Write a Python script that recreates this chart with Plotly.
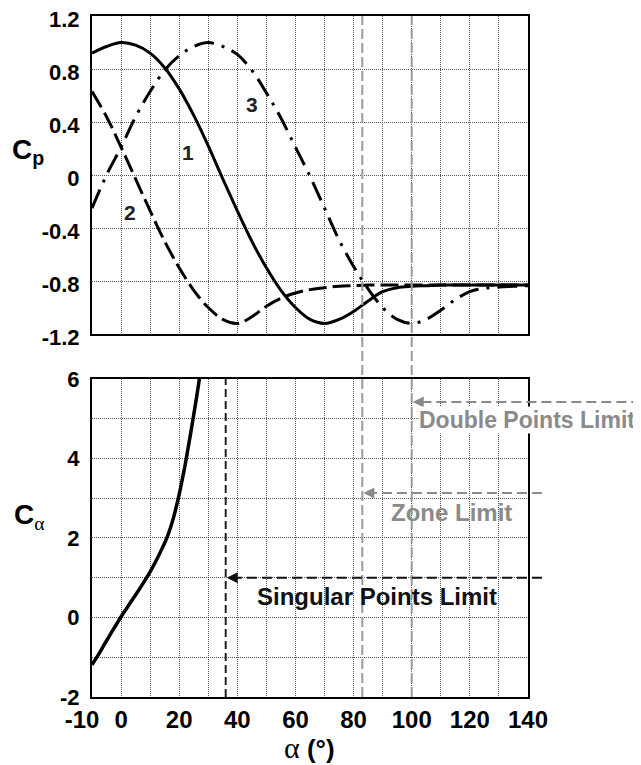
import plotly.graph_objects as go

# ---------------- data ----------------
alpha_cp = [-10, -5, 0, 5, 10, 15, 20, 25, 30, 35, 40, 45, 50, 55, 60, 65, 70, 75,
            80, 85, 90, 95, 100, 105, 110, 115, 120, 125, 130, 135, 140]
cp1 = [0.92, 0.97, 1.00, 0.98, 0.92, 0.81, 0.65, 0.45, 0.22, -0.03,
       -0.27, -0.50, -0.70, -0.87, -1.00, -1.09, -1.12, -1.09, -1.03, -0.95,
       -0.88, -0.85, -0.84, -0.835, -0.83, -0.83, -0.83, -0.83, -0.83, -0.83,
       -0.83]
cp2 = [0.63, 0.44, 0.21, -0.03, -0.27, -0.50, -0.70, -0.87, -1.00, -1.09,
       -1.12, -1.07, -0.99, -0.93, -0.89, -0.865, -0.85, -0.84, -0.835, -0.83,
       -0.83, -0.83, -0.83, -0.83, -0.83, -0.83, -0.83, -0.83, -0.83, -0.83,
       -0.83]
cp3 = [-0.25, 0.00, 0.21, 0.44, 0.63, 0.79, 0.90, 0.97, 1.00, 0.97,
       0.91, 0.79, 0.62, 0.43, 0.21, -0.01, -0.25, -0.49, -0.69, -0.86,
       -1.00, -1.09, -1.12, -1.09, -1.02, -0.94, -0.88, -0.855, -0.845, -0.84,
       -0.835]
curve_labels = ["1", "2", "3"]
curve_label_pos = [(23, 0.17), (3, -0.28), (45, 0.53)]

alpha_ca = [-10, -8, -6, -4, -2, 0, 2, 4, 6, 8, 10, 12, 14, 16, 18, 20, 21, 22,
            23, 24, 25, 26, 27, 27.5]
ca = [-1.19, -0.96, -0.71, -0.46, -0.22, 0.02, 0.24, 0.46, 0.68, 0.91, 1.15,
      1.42, 1.72, 2.05, 2.50, 3.10, 3.45, 3.82, 4.24, 4.66, 5.10, 5.55, 6.03,
      6.28]

singular_alpha = 36
zone_alpha = 83
double_alpha = 100
limit_texts = ["Double Points Limit", "Zone Limit", "Singular Points Limit"]

x_tickvals = [-10, 0, 20, 40, 60, 80, 100, 120, 140]
x_ticktext = ["-10\u00a0\u00a0\u00a0", "0", "20", "40", "60", "80", "100", "120", "140"]
cp_tickvals = [1.2, 0.8, 0.4, 0, -0.4, -0.8, -1.2]
cp_ticktext = ["1.2", "0.8", "0.4", "0", "-0.4", "-0.8", "-1.2"]
ca_tickvals = [-2, 0, 2, 4, 6]
ca_ticktext = ["-2", "0", "2", "4", "6"]

# ---------------- figure ----------------
SANS = "Liberation Sans"
SERIF = "Liberation Serif"
GRID = dict(showgrid=True, gridcolor="#555", gridwidth=1, griddash="1px,1px")
GRAY = "#8a8a8a"

fig = go.Figure()

fig.add_trace(go.Scatter(x=alpha_cp, y=cp1, xaxis="x2", yaxis="y2", mode="lines",
                         line=dict(color="black", width=3, shape="spline"),
                         showlegend=False))
fig.add_trace(go.Scatter(x=alpha_cp, y=cp2, xaxis="x2", yaxis="y2", mode="lines",
                         line=dict(color="black", width=3, shape="spline",
                                   dash="18px,6px"),
                         showlegend=False))
fig.add_trace(go.Scatter(x=alpha_cp, y=cp3, xaxis="x2", yaxis="y2", mode="lines",
                         line=dict(color="black", width=3, shape="spline",
                                   dash="20px,8px,3px,8px"),
                         showlegend=False))
fig.add_trace(go.Scatter(x=alpha_ca, y=ca, xaxis="x", yaxis="y", mode="lines",
                         line=dict(color="black", width=3.5, shape="spline"),
                         showlegend=False))

axis_common = dict(showline=True, linecolor="black", linewidth=2, mirror=True,
                   ticks="", zeroline=False, automargin=False, tickangle=0,
                   ticklabeloverflow="allow", **GRID)

# the page body adds an 8px offset; compensate so the plot sits where the reference does
fig.update_layout(
    width=633, height=757,
    margin=dict(l=84, r=113, t=8, b=68),
    paper_bgcolor="white", plot_bgcolor="white",
    font=dict(family=SANS, color="black"),
    xaxis=dict(domain=[0, 1], range=[-10, 140], anchor="y",
               tickvals=x_tickvals, ticktext=x_ticktext,
               tickfont=dict(family=SANS, size=24, weight="bold"),
               minor=dict(dtick=10, tick0=0, **GRID),
               **axis_common),
    yaxis=dict(domain=[0, 0.467], range=[-2, 6], anchor="x",
               tickvals=ca_tickvals, ticktext=ca_ticktext,
               tickfont=dict(family=SANS, size=22, weight="bold"),
               minor=dict(dtick=1, tick0=0, **GRID),
               ticklabelstandoff=6,
               **axis_common),
    xaxis2=dict(domain=[0, 1], range=[-10, 140], anchor="y2", matches="x",
                tickvals=x_tickvals, showticklabels=False,
                minor=dict(dtick=10, tick0=0, **GRID),
                **axis_common),
    yaxis2=dict(domain=[0.533, 1], range=[-1.2, 1.2], anchor="x2",
                tickvals=cp_tickvals, ticktext=cp_ticktext,
                tickfont=dict(family=SANS, size=22, weight="bold"),
                ticklabelstandoff=6, ticklabelshift=3,
                **axis_common),
)

shapes = []
for a in (zone_alpha, double_alpha):
    shapes.append(dict(type="line", xref="x", yref="paper", x0=a, x1=a, y0=0, y1=1,
                       line=dict(color="#9a9a9a", width=2, dash="10px,4px"),
                       layer="above"))
shapes.append(dict(type="line", xref="x", yref="y", x0=singular_alpha, x1=singular_alpha,
                   y0=-2, y1=6, line=dict(color="#222", width=2, dash="8px,4px"),
                   layer="above"))

arrow_specs = [
    (double_alpha, 5.42, 1.26, GRAY),
    (zone_alpha, 3.13, 1.032, GRAY),
    (singular_alpha, 1.0, 1.032, "#111"),
]
annotations = []
for tgt, yv, tail, col in arrow_specs:
    shapes.append(dict(type="line", xref="paper", yref="y", x0=tail,
                       x1=(tgt + 10) / 150 + 14 / 436, y0=yv, y1=yv,
                       line=dict(color=col, width=2, dash="10px,5px"), layer="above"))
    annotations.append(dict(x=tgt, y=yv, xref="x", yref="y", text="", showarrow=True,
                            arrowhead=2, arrowsize=1.1, arrowwidth=2, arrowcolor=col,
                            ax=16, ay=0, standoff=1))

fig.update_layout(shapes=shapes)

annotations.append(dict(x=(418 - 92) / 436, y=4.97, xref="paper", yref="y",
                        text="<b>" + limit_texts[0] + "</b>", showarrow=False,
                        xanchor="left", yanchor="middle", bgcolor="white",
                        borderpad=0,
                        font=dict(family=SANS, size=23, color=GRAY)))
annotations.append(dict(x=(451 - 92) / 436, y=2.65, xref="paper", yref="y",
                        text="<b>" + limit_texts[1] + "</b>", showarrow=False,
                        xanchor="center", yanchor="middle",
                        font=dict(family=SANS, size=24, color=GRAY)))
annotations.append(dict(x=(377 - 92) / 436, y=0.52, xref="paper", yref="y",
                        text="<b>" + limit_texts[2] + "</b>", showarrow=False,
                        xanchor="center", yanchor="middle",
                        font=dict(family=SANS, size=24, color="#111")))

for lab, (xa, ya) in zip(curve_labels, curve_label_pos):
    annotations.append(dict(x=xa, y=ya, xref="x2", yref="y2", text="<b>" + lab + "</b>",
                            showarrow=False, xanchor="center", yanchor="middle",
                            font=dict(family=SANS, size=21, color="#222")))

annotations.append(dict(x=(28 - 92) / 436, y=(697 - 151) / 681, xref="paper", yref="paper",
                        text="<b>C<sub>p</sub></b>", showarrow=False,
                        xanchor="center", yanchor="middle",
                        font=dict(family=SANS, size=28)))
annotations.append(dict(x=(29 - 92) / 436, y=(697 - 517) / 681, xref="paper", yref="paper",
                        text="<b>C</b><sub><span style='font-family:" + SERIF + "'>α</span></sub>",
                        showarrow=False, xanchor="center", yanchor="middle",
                        font=dict(family=SANS, size=28)))
annotations.append(dict(x=(309 - 92) / 436, y=(697 - 748) / 681, xref="paper", yref="paper",
                        text="<span style='font-family:" + SERIF + ";font-size:30px'>α</span> <b>(°)</b>",
                        showarrow=False, xanchor="center", yanchor="middle",
                        font=dict(family=SANS, size=26)))

fig.update_layout(annotations=annotations)

fig.write_html("out.html")
